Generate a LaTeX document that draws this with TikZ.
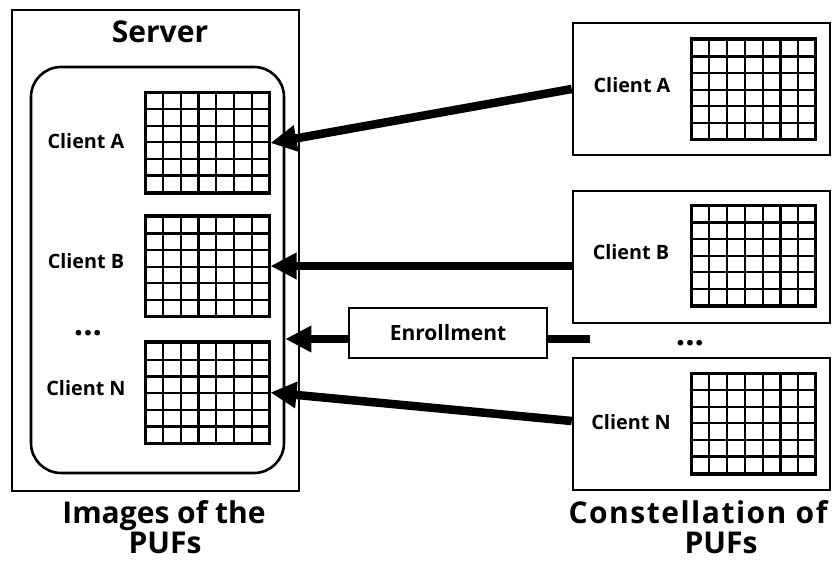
\documentclass[tikz,border=0pt]{standalone}
\usepackage{fontspec}
\setmainfont{Open Sans}
\usetikzlibrary{arrows.meta,calc}
\tikzset{
  box/.style={draw,line width=2.6pt,inner sep=0pt},
  pufgrid/.style={draw,line width=3pt,inner sep=0pt,minimum width=124pt,minimum height=101pt,fill=white},
  gridlines/.style={line width=2.2pt},
  fromtop/.style={path picture={
      \foreach \i in {1,...,6}{\draw[gridlines] ([xshift=\i*17.8pt]path picture bounding box.north west) -- ([xshift=\i*17.8pt]path picture bounding box.south west);}
      \foreach \j in {1,...,6}{\draw[gridlines] ([yshift=-\j*16.6pt]path picture bounding box.north west) -- ([yshift=-\j*16.6pt]path picture bounding box.north east);}
  }},
  frombot/.style={path picture={
      \foreach \i in {1,...,6}{\draw[gridlines] ([xshift=\i*17.8pt]path picture bounding box.north west) -- ([xshift=\i*17.8pt]path picture bounding box.south west);}
      \foreach \j in {1,...,6}{\draw[gridlines] ([yshift=\j*16.6pt]path picture bounding box.south west) -- ([yshift=\j*16.6pt]path picture bounding box.south east);}
  }},
  lbl/.style={font=\bfseries\fontsize{19.8}{22}\selectfont,inner sep=0pt},
  dots/.style={font=\bfseries\fontsize{33}{36}\selectfont,inner sep=0pt,anchor=base},
  big/.style={font=\bfseries\fontsize{30}{34}\selectfont,inner sep=0pt,anchor=base},
  conn/.style={line width=8.5pt},
  arr/.style={conn,-{Triangle[length=26pt,width=25pt]}},
}
\begin{document}
\begin{tikzpicture}[x=1pt,y=-1pt]
\useasboundingbox (0,0) rectangle (833,569);
% server
\node[box,minimum width=287pt,minimum height=481pt] (server) at (155.5,250.5) {};
\node[big] (servertitle) at (160,43) {Server};
\node[draw,line width=2.6pt,rounded corners=30pt,minimum width=253pt,minimum height=406pt,inner sep=0pt] (inner) at (157.5,270) {};
\node[pufgrid,fromtop] (gA) at (207,143) {};
\node[pufgrid,frombot] (gB) at (207,266) {};
\node[pufgrid,frombot] (gN) at (207,392.5) {};
\node[lbl] (lA) at (86,141) {Client A};
\node[lbl] (lB) at (86,261) {Client B};
\node[lbl] (lN) at (86,388) {Client N};
\node[dots] (ldots) at (88,336) {...};
% clients
\node[box,minimum width=257pt,minimum height=132pt] (rA) at (701.5,89) {};
\node[box,minimum width=257pt,minimum height=132pt] (rB) at (701.5,257) {};
\node[box,minimum width=257pt,minimum height=132pt] (rN) at (701.5,424) {};
\node[pufgrid,frombot] (hA) at (753.5,89) {};
\node[pufgrid,fromtop] (hB) at (753.5,256.5) {};
\node[pufgrid,fromtop] (hN) at (753.5,424) {};
\node[lbl] (mA) at (632,85) {Client A};
\node[lbl] (mB) at (631,252) {Client B};
\node[lbl] (mN) at (631,422) {Client N};
\node[dots] (rdots) at (690,345) {...};
% enrollment
\node[draw,line width=1.8pt,minimum width=198pt,minimum height=50pt,inner sep=0pt,font=\bfseries\fontsize{21}{24}\selectfont] (enr) at (448,333) {Enrollment};
\coordinate (enrEnd) at (590,339);
% connectors
\draw[arr] (rA.west) -- (gA.east);
\draw[arr] (rB.west |- gB.east) -- (gB.east);
\draw[conn] (enrEnd) -- (enr.east |- enrEnd);
\draw[arr] (enr.west |- enrEnd) -- (inner.east |- enrEnd);
\draw[arr] ([yshift=3pt]rN.west) -- (gN.east);
% bottom labels
\node[big] (img1) at (164,523) {Images of the};
\node[big] (img2) at (165,553) {PUFs};
\node[big] (con1) at (698,523) {\addfontfeature{LetterSpace=5}Constellation of};
\node[big] (con2) at (721,553) {PUFs};
\end{tikzpicture}
\end{document}
